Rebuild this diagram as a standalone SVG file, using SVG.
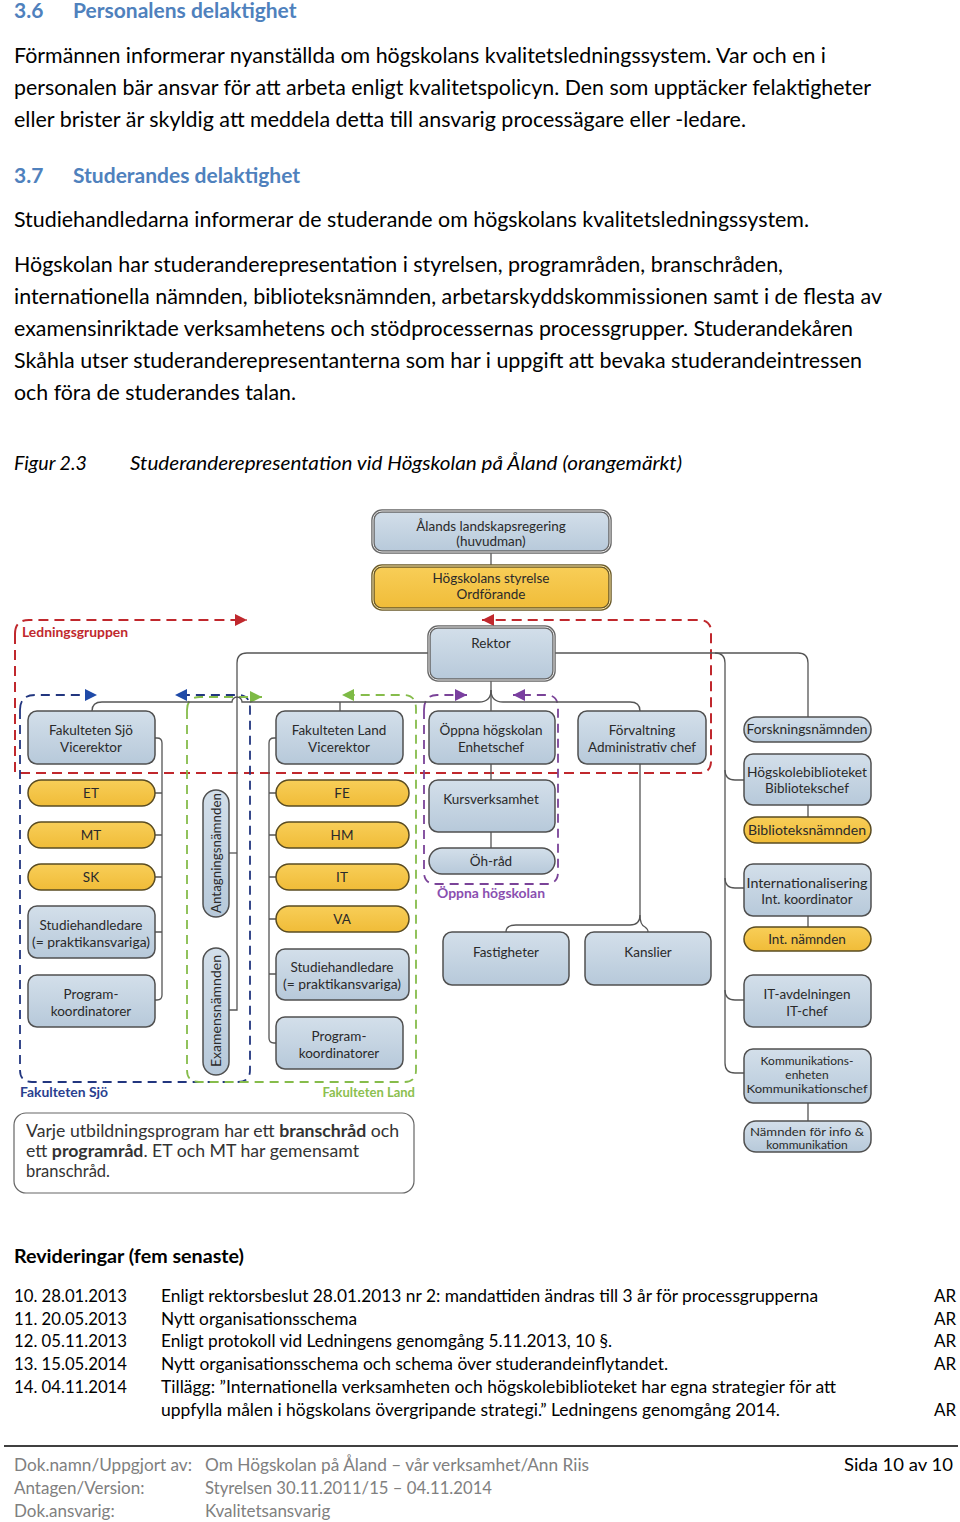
<svg xmlns="http://www.w3.org/2000/svg" width="960" height="1522" viewBox="0 0 960 1522">
<style>
.pg{font-family:Lato,"Open Sans","Liberation Sans",sans-serif;font-size:21px;fill:#000}
.h{font-family:Lato,"Liberation Sans",sans-serif;font-size:21px;font-weight:bold;fill:#4F81BD}
.fig{font-family:Lato,"Liberation Sans",sans-serif;font-size:19px;font-style:italic;fill:#000}
.rv{font-family:Lato,"Liberation Sans",sans-serif;font-size:17px;fill:#000}
.ft{font-family:Lato,"Liberation Sans",sans-serif;font-size:17px;fill:#808080}
.bx{fill:url(#gb);stroke:#505050;stroke-width:1.5}
.yb{fill:url(#gy);stroke:#5a4c22;stroke-width:1.5}
.dbl{fill:none;stroke:#e8e8e8;stroke-width:1}
.t{font-family:Lato,"Liberation Sans",sans-serif;font-size:13.5px;fill:#2a2a2a;text-anchor:middle}
.ts{font-family:Lato,"Liberation Sans",sans-serif;font-size:12px;fill:#2a2a2a;text-anchor:middle}
.c{fill:none;stroke:#555;stroke-width:1.3}
.dr{fill:none;stroke:#C0282D;stroke-width:2;stroke-dasharray:10 6}
.db{fill:none;stroke:#22367F;stroke-width:1.8;stroke-dasharray:9 6}
.dg{fill:none;stroke:#86BC4B;stroke-width:1.8;stroke-dasharray:9 6}
.dp{fill:none;stroke:#7A4398;stroke-width:1.8;stroke-dasharray:9 6}
.lb{font-family:Lato,"Liberation Sans",sans-serif;font-size:13px;font-weight:bold}
.nt{font-family:Lato,"Open Sans","Liberation Sans",sans-serif;font-size:16.5px;fill:#333}
</style>
<defs>
<linearGradient id="gb" x1="0" y1="0" x2="0" y2="1"><stop offset="0" stop-color="#D3DFEA"/><stop offset="1" stop-color="#B7C9DA"/></linearGradient>
<linearGradient id="gy" x1="0" y1="0" x2="0" y2="1"><stop offset="0" stop-color="#F8CE58"/><stop offset="1" stop-color="#F0BC38"/></linearGradient>
<marker id="ar" viewBox="0 0 10 10" refX="10" refY="5" markerWidth="12" markerHeight="12" markerUnits="userSpaceOnUse" orient="auto"><path d="M0,0 L10,5 L0,10 z" fill="#C0282D"/></marker>
<marker id="ab" viewBox="0 0 10 10" refX="10" refY="5" markerWidth="12" markerHeight="12" markerUnits="userSpaceOnUse" orient="auto"><path d="M0,0 L10,5 L0,10 z" fill="#1F4AA8"/></marker>
<marker id="ag" viewBox="0 0 10 10" refX="10" refY="5" markerWidth="12" markerHeight="12" markerUnits="userSpaceOnUse" orient="auto"><path d="M0,0 L10,5 L0,10 z" fill="#7DBA45"/></marker>
<marker id="ap" viewBox="0 0 10 10" refX="10" refY="5" markerWidth="12" markerHeight="12" markerUnits="userSpaceOnUse" orient="auto"><path d="M0,0 L10,5 L0,10 z" fill="#7A3FA0"/></marker>
</defs>
<rect width="960" height="1522" fill="#fff"/>

<g id="page-text">
<text class="h" x="14" y="18">3.6</text>
<text class="h" x="73" y="18">Personalens delaktighet</text>
<text class="pg" x="14" y="63" textLength="812" lengthAdjust="spacingAndGlyphs">Förmännen informerar nyanställda om högskolans kvalitetsledningssystem. Var och en i</text>
<text class="pg" x="14" y="95" textLength="857" lengthAdjust="spacingAndGlyphs">personalen bär ansvar för att arbeta enligt kvalitetspolicyn. Den som upptäcker felaktigheter</text>
<text class="pg" x="14" y="127" textLength="732" lengthAdjust="spacingAndGlyphs">eller brister är skyldig att meddela detta till ansvarig processägare eller -ledare.</text>
<text class="h" x="14" y="183">3.7</text>
<text class="h" x="73" y="183">Studerandes delaktighet</text>
<text class="pg" x="14" y="227" textLength="795" lengthAdjust="spacingAndGlyphs">Studiehandledarna informerar de studerande om högskolans kvalitetsledningssystem.</text>
<text class="pg" x="14" y="272" textLength="769" lengthAdjust="spacingAndGlyphs">Högskolan har studeranderepresentation i styrelsen, programråden, branschråden,</text>
<text class="pg" x="14" y="304" textLength="868" lengthAdjust="spacingAndGlyphs">internationella nämnden, biblioteksnämnden, arbetarskyddskommissionen samt i de flesta av</text>
<text class="pg" x="14" y="336" textLength="839" lengthAdjust="spacingAndGlyphs">examensinriktade verksamhetens och stödprocessernas processgrupper. Studerandekåren</text>
<text class="pg" x="14" y="368" textLength="848" lengthAdjust="spacingAndGlyphs">Skåhla utser studeranderepresentanterna som har i uppgift att bevaka studerandeintressen</text>
<text class="pg" x="14" y="400" textLength="282" lengthAdjust="spacingAndGlyphs">och föra de studerandes talan.</text>
<text class="fig" x="14" y="470" textLength="73" lengthAdjust="spacingAndGlyphs">Figur 2.3</text>
<text class="fig" x="130" y="470" textLength="552" lengthAdjust="spacingAndGlyphs">Studeranderepresentation vid Högskolan på Åland (orangemärkt)</text>
</g>

<g id="groups">
<path class="dr" d="M15,634 Q15,620 29,620 H247" marker-end="url(#ar)"/>
<path class="dr" d="M15,634 V773 H699 Q711,773 711,761 V632 Q711,620 699,620 H482" marker-end="url(#ar)"/>
<text class="lb" x="22" y="637" fill="#C0282D" textLength="106" lengthAdjust="spacingAndGlyphs">Ledningsgruppen</text>
<path class="db" d="M20,710 Q20,695 35,695 H97" marker-end="url(#ab)"/>
<path class="db" d="M20,710 V1070 Q20,1082 32,1082 H238 Q250,1082 250,1070 V708 Q250,695 238,695 H175" marker-end="url(#ab)"/>
<text class="lb" x="20" y="1097" fill="#2A3F8F" textLength="88" lengthAdjust="spacingAndGlyphs">Fakulteten Sjö</text>
<path class="dg" d="M187,710 Q187,697 200,697 H262" marker-end="url(#ag)"/>
<path class="dg" d="M187,710 V1070 Q187,1082 199,1082 H404 Q416,1082 416,1070 V709 Q416,695 404,695 H342" marker-end="url(#ag)"/>
<text class="lb" x="415" y="1097" fill="#8CBF4F" text-anchor="end">Fakulteten Land</text>
<path class="dp" d="M424,710 Q424,695 437,695 H467" marker-end="url(#ap)"/>
<path class="dp" d="M424,710 V872 Q424,884 436,884 H546 Q558,884 558,872 V708 Q558,695 546,695 H513" marker-end="url(#ap)"/>
<text class="lb" x="491" y="898" fill="#8A4FB0" text-anchor="middle" textLength="108" lengthAdjust="spacingAndGlyphs">Öppna högskolan</text>
</g>

<g id="connectors">
<path class="c" d="M491,552 V566"/>
<path class="c" d="M491,680 V711"/>
<path class="c" d="M491,690 Q491,702 479,702 H242 A5,5 0 0 0 232,702 H102 Q92,702 92,711"/>
<path class="c" d="M340,702 V711"/>
<path class="c" d="M491,690 Q491,702 503,702 H630 Q640,702 640,711"/>
<path class="c" d="M429,653 H247 Q237,653 237,663 V1010 H229"/>
<path class="c" d="M237,853 H229"/>
<path class="c" d="M554,653 H798 Q808,653 808,663 V717"/>
<path class="c" d="M715,653 Q725,653 725,663 V1063 Q725,1073 735,1073 H744"/>
<path class="c" d="M725,770 Q725,780 735,780 H744"/>
<path class="c" d="M725,878 Q725,888 735,888 H744"/>
<path class="c" d="M725,990 Q725,1000 735,1000 H744"/>
<path class="c" d="M808,805 V817 M808,916 V927 M808,1103 V1121"/>
<path class="c" d="M491,764 V780 M491,832 V848"/>
<path class="c" d="M640,764 V915 Q640,925 630,925 H516 Q506,925 506,932"/>
<path class="c" d="M640,915 Q640,925 645,927 Q648,929 648,932"/>
<path class="c" d="M155,738 H157 Q162,738 162,743 V995 Q162,1000 157,1000 H155 M162,793 H155 M162,835 H155 M162,877 H155 M162,932 H155"/>
<path class="c" d="M276,738 H274 Q269,738 269,743 V1038 Q269,1043 274,1043 H276 M269,793 H276 M269,835 H276 M269,877 H276 M269,919 H276 M269,974 H276"/>
</g>

<g id="n-aland"><rect class="bx" x="373" y="511" width="237" height="41" rx="9" style="stroke-width:3.5;stroke:#666"/><rect class="dbl" x="373" y="511" width="237" height="41" rx="9"/><text class="t" x="491" y="531">Ålands landskapsregering</text><text class="t" x="491" y="546">(huvudman)</text></g>
<g id="n-styrelse"><rect class="yb" x="373" y="566" width="237" height="43" rx="9" style="stroke-width:3.5;stroke:#6a5a2a"/><rect class="dbl" x="373" y="566" width="237" height="43" rx="9" style="stroke:#fbe7a8"/><text class="t" x="491" y="583">Högskolans styrelse</text><text class="t" x="491" y="599">Ordförande</text></g>
<g id="n-rektor"><rect class="bx" x="429" y="627" width="125" height="53" rx="9" style="stroke-width:3.5;stroke:#666"/><rect class="dbl" x="429" y="627" width="125" height="53" rx="9"/><text class="t" x="491" y="648">Rektor</text></g>

<g id="n-fak-sjo"><rect class="bx" x="28" y="711" width="127" height="53" rx="9"/><text class="t" x="91" y="735">Fakulteten Sjö</text><text class="t" x="91" y="752">Vicerektor</text></g>
<g id="n-fak-land"><rect class="bx" x="276" y="711" width="127" height="53" rx="9"/><text class="t" x="339" y="735">Fakulteten Land</text><text class="t" x="339" y="752">Vicerektor</text></g>
<g id="n-oppna"><rect class="bx" x="429" y="711" width="126" height="53" rx="9"/><text class="t" x="491" y="735">Öppna högskolan</text><text class="t" x="491" y="752">Enhetschef</text></g>
<g id="n-forvaltning"><rect class="bx" x="578" y="711" width="128" height="53" rx="9"/><text class="t" x="642" y="735">Förvaltning</text><text class="t" x="642" y="752">Administrativ chef</text></g>

<g id="n-et"><rect class="yb" x="28" y="780" width="127" height="26" rx="13"/><text class="t" x="91" y="798">ET</text></g>
<g id="n-mt"><rect class="yb" x="28" y="822" width="127" height="26" rx="13"/><text class="t" x="91" y="840">MT</text></g>
<g id="n-sk"><rect class="yb" x="28" y="864" width="127" height="26" rx="13"/><text class="t" x="91" y="882">SK</text></g>
<g id="n-stud-sjo"><rect class="bx" x="28" y="906" width="127" height="52" rx="9"/><text class="t" x="91" y="930">Studiehandledare</text><text class="t" x="91" y="947" textLength="118" lengthAdjust="spacingAndGlyphs">(= praktikansvariga)</text></g>
<g id="n-prog-sjo"><rect class="bx" x="28" y="975" width="127" height="52" rx="9"/><text class="t" x="91" y="999">Program-</text><text class="t" x="91" y="1016">koordinatorer</text></g>

<g id="n-antagning"><rect class="bx" x="203" y="790" width="26" height="127" rx="13"/><text class="t" transform="translate(220.5,853) rotate(-90)" x="0" y="0" textLength="120" lengthAdjust="spacingAndGlyphs">Antagningsnämnden</text></g>
<g id="n-examens"><rect class="bx" x="203" y="948" width="26" height="127" rx="13"/><text class="t" transform="translate(220.5,1011) rotate(-90)" x="0" y="0" textLength="112" lengthAdjust="spacingAndGlyphs">Examensnämnden</text></g>

<g id="n-fe"><rect class="yb" x="276" y="780" width="133" height="26" rx="13"/><text class="t" x="342" y="798">FE</text></g>
<g id="n-hm"><rect class="yb" x="276" y="822" width="133" height="26" rx="13"/><text class="t" x="342" y="840">HM</text></g>
<g id="n-it"><rect class="yb" x="276" y="864" width="133" height="26" rx="13"/><text class="t" x="342" y="882">IT</text></g>
<g id="n-va"><rect class="yb" x="276" y="906" width="133" height="26" rx="13"/><text class="t" x="342" y="924">VA</text></g>
<g id="n-stud-land"><rect class="bx" x="276" y="949" width="133" height="51" rx="9"/><text class="t" x="342" y="972">Studiehandledare</text><text class="t" x="342" y="989" textLength="118" lengthAdjust="spacingAndGlyphs">(= praktikansvariga)</text></g>
<g id="n-prog-land"><rect class="bx" x="276" y="1017" width="127" height="52" rx="9"/><text class="t" x="339" y="1041">Program-</text><text class="t" x="339" y="1058">koordinatorer</text></g>

<g id="n-kurs"><rect class="bx" x="429" y="780" width="126" height="52" rx="9"/><text class="t" x="491" y="804">Kursverksamhet</text></g>
<g id="n-ohrad"><rect class="bx" x="429" y="848" width="126" height="26" rx="13"/><text class="t" x="491" y="866">Öh-råd</text></g>
<g id="n-fastigheter"><rect class="bx" x="443" y="932" width="126" height="53" rx="9"/><text class="t" x="506" y="957">Fastigheter</text></g>
<g id="n-kanslier"><rect class="bx" x="585" y="932" width="126" height="53" rx="9"/><text class="t" x="648" y="957">Kanslier</text></g>

<g id="n-forskning"><rect class="bx" x="744" y="717" width="127" height="25" rx="12"/><text class="t" x="807" y="734" textLength="121" lengthAdjust="spacingAndGlyphs">Forskningsnämnden</text></g>
<g id="n-bibliotek"><rect class="bx" x="744" y="754" width="127" height="51" rx="9"/><text class="t" x="807" y="777" textLength="120" lengthAdjust="spacingAndGlyphs">Högskolebiblioteket</text><text class="t" x="807" y="793">Bibliotekschef</text></g>
<g id="n-biblnamnd"><rect class="yb" x="744" y="817" width="127" height="26" rx="13"/><text class="t" x="807" y="835" textLength="118" lengthAdjust="spacingAndGlyphs">Biblioteksnämnden</text></g>
<g id="n-intern"><rect class="bx" x="744" y="864" width="127" height="52" rx="9"/><text class="t" x="807" y="888" textLength="121" lengthAdjust="spacingAndGlyphs">Internationalisering</text><text class="t" x="807" y="904">Int. koordinator</text></g>
<g id="n-intnamnd"><rect class="yb" x="744" y="927" width="127" height="24" rx="12"/><text class="t" x="807" y="944">Int. nämnden</text></g>
<g id="n-it-avd"><rect class="bx" x="744" y="975" width="127" height="52" rx="9"/><text class="t" x="807" y="999">IT-avdelningen</text><text class="t" x="807" y="1016">IT-chef</text></g>
<g id="n-komm"><rect class="bx" x="744" y="1049" width="127" height="54" rx="9"/><text class="ts" x="807" y="1065">Kommunikations-</text><text class="ts" x="807" y="1079">enheten</text><text class="ts" x="807" y="1093" textLength="121" lengthAdjust="spacingAndGlyphs">Kommunikationschef</text></g>
<g id="n-info"><rect class="bx" x="744" y="1121" width="127" height="31" rx="12"/><text class="ts" x="807" y="1136" textLength="114" lengthAdjust="spacingAndGlyphs">Nämnden för info &amp;</text><text class="ts" x="807" y="1149">kommunikation</text></g>

<g id="n-note"><rect x="14" y="1113" width="400" height="80" rx="12" fill="#fff" stroke="#666" stroke-width="1.2"/>
<text class="nt" x="26" y="1137" textLength="373" lengthAdjust="spacingAndGlyphs">Varje utbildningsprogram har ett <tspan font-weight="bold">branschråd</tspan> och</text>
<text class="nt" x="26" y="1157" textLength="333" lengthAdjust="spacingAndGlyphs">ett <tspan font-weight="bold">programråd</tspan>. ET och MT har gemensamt</text>
<text class="nt" x="26" y="1177">branschråd.</text></g>

<g id="revisions">
<text x="14" y="1263" style="font-family:Lato,'Liberation Sans',sans-serif;font-size:19px;font-weight:bold" textLength="230" lengthAdjust="spacingAndGlyphs">Revideringar (fem senaste)</text>
<text class="rv" x="14" y="1302" textLength="113" lengthAdjust="spacingAndGlyphs">10. 28.01.2013</text>
<text class="rv" x="161" y="1302" textLength="657" lengthAdjust="spacingAndGlyphs">Enligt rektorsbeslut 28.01.2013 nr 2: mandattiden ändras till 3 år för processgrupperna</text>
<text class="rv" x="934" y="1302">AR</text>
<text class="rv" x="14" y="1325" textLength="113" lengthAdjust="spacingAndGlyphs">11. 20.05.2013</text>
<text class="rv" x="161" y="1325" textLength="196" lengthAdjust="spacingAndGlyphs">Nytt organisationsschema</text>
<text class="rv" x="934" y="1325">AR</text>
<text class="rv" x="14" y="1347" textLength="113" lengthAdjust="spacingAndGlyphs">12. 05.11.2013</text>
<text class="rv" x="161" y="1347" textLength="451" lengthAdjust="spacingAndGlyphs">Enligt protokoll vid Ledningens genomgång 5.11.2013, 10 §.</text>
<text class="rv" x="934" y="1347">AR</text>
<text class="rv" x="14" y="1370" textLength="113" lengthAdjust="spacingAndGlyphs">13. 15.05.2014</text>
<text class="rv" x="161" y="1370" textLength="507" lengthAdjust="spacingAndGlyphs">Nytt organisationsschema och schema över studerandeinflytandet.</text>
<text class="rv" x="934" y="1370">AR</text>
<text class="rv" x="14" y="1393" textLength="113" lengthAdjust="spacingAndGlyphs">14. 04.11.2014</text>
<text class="rv" x="161" y="1393" textLength="675" lengthAdjust="spacingAndGlyphs">Tillägg: ”Internationella verksamheten och högskolebiblioteket har egna strategier för att</text>
<text class="rv" x="161" y="1416" textLength="619" lengthAdjust="spacingAndGlyphs">uppfylla målen i högskolans övergripande strategi.” Ledningens genomgång 2014.</text>
<text class="rv" x="934" y="1416">AR</text>
</g>

<g id="footer">
<line x1="4" y1="1446" x2="958" y2="1446" stroke="#000" stroke-width="1.6"/>
<text class="ft" x="14" y="1471" textLength="178" lengthAdjust="spacingAndGlyphs">Dok.namn/Uppgjort av:</text>
<text class="ft" x="205" y="1471" textLength="384" lengthAdjust="spacingAndGlyphs">Om Högskolan på Åland – vår verksamhet/Ann Riis</text>
<text class="rv" x="844" y="1471" textLength="109" lengthAdjust="spacingAndGlyphs">Sida 10 av 10</text>
<text class="ft" x="14" y="1494">Antagen/Version:</text>
<text class="ft" x="205" y="1494" textLength="287" lengthAdjust="spacingAndGlyphs">Styrelsen 30.11.2011/15 – 04.11.2014</text>
<text class="ft" x="14" y="1517">Dok.ansvarig:</text>
<text class="ft" x="205" y="1517">Kvalitetsansvarig</text>
</g>
</svg>
